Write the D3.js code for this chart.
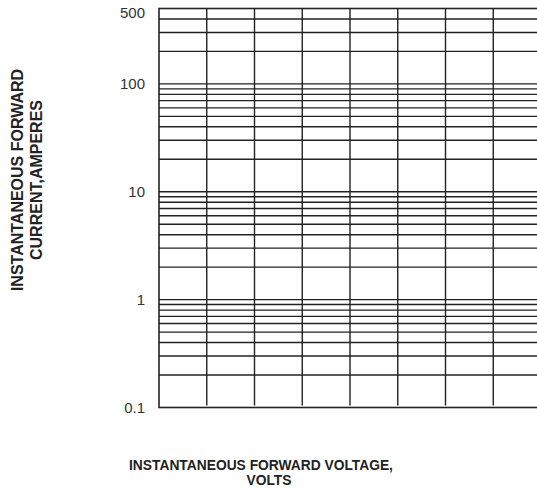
<!DOCTYPE html>
<html lang="en">
  <head>
    <meta charset="utf-8">
    <title>forward characteristics grid</title>
    <script src="https://cdn.jsdelivr.net/npm/d3@7"></script>
    <style>
      body { margin: 0; background: #fff; }
    </style>
  </head>
  <body>
    <div id='main'></div>
  </body>

  <script type='text/javascript'>

      // y axis (log) labels and grid values
      const yTickValues = [0.1, 1, 10, 100, 500];
      const yTickLabels = ['0.1', '1', '10', '100', '500'];
      const yGridValues = [0.2, 0.3, 0.4, 0.5, 0.6, 0.7, 0.8, 0.9,
                           1, 2, 3, 4, 5, 6, 7, 8, 9,
                           10, 20, 30, 40, 50, 60, 70, 80, 90,
                           100, 200, 300, 400];
      // x axis divisions (no labels on the reference)
      const xGridValues = [1, 2, 3, 4, 5, 6, 7];

      const yTitle = ['INSTANTANEOUS FORWARD', 'CURRENT,AMPERES'];
      const xTitle = ['INSTANTANEOUS FORWARD VOLTAGE,', 'VOLTS'];

      const W = 537, H = 502;
      const plotLeft = 159, plotTop = 8.5, plotBottom = 407.5, plotRight = 541;

      let svg = d3.select('#main').append('svg')
        .attr('width', W)
        .attr('height', H)
        .style('font-family', 'Liberation Sans, Arial, sans-serif');

      const y = d3.scaleLog().domain([0.1, 500]).range([plotBottom, plotTop]);
      const x = d3.scaleLinear().domain([0, 8]).range([plotLeft, plotRight]);

      const lineColor = '#222';

      // horizontal grid
      svg.append('g').selectAll('line')
        .data(yGridValues)
        .enter()
        .append('line')
        .attr('x1', plotLeft).attr('x2', plotRight)
        .attr('y1', d => y(d)).attr('y2', d => y(d))
        .attr('stroke', lineColor)
        .attr('stroke-width', 1.4);

      // vertical grid
      svg.append('g').selectAll('line')
        .data(xGridValues)
        .enter()
        .append('line')
        .attr('x1', d => x(d)).attr('x2', d => x(d))
        .attr('y1', plotTop).attr('y2', plotBottom - 2)
        .attr('stroke', lineColor)
        .attr('stroke-width', 1.4);

      // frame
      svg.append('rect')
        .attr('x', plotLeft).attr('y', plotTop)
        .attr('width', plotRight - plotLeft).attr('height', plotBottom - plotTop)
        .attr('fill', 'none')
        .attr('stroke', lineColor)
        .attr('stroke-width', 1.6);

      // y tick labels
      const yAxis = d3.axisLeft(y)
        .tickValues(yTickValues)
        .tickFormat((d, i) => yTickLabels[i])
        .tickSize(0)
        .tickPadding(14);

      const ya = svg.append('g')
        .attr('transform', 'translate(' + plotLeft + ',0)')
        .call(yAxis);
      ya.select('.domain').remove();
      ya.selectAll('text')
        .attr('font-size', '15px')
        .attr('font-family', 'Liberation Sans, Arial, sans-serif')
        .attr('fill', '#333');
      // the top label sits a little below the frame
      ya.selectAll('.tick').filter(d => d === 500).select('text').attr('dy', '0.6em');

      // y title
      const yt = svg.append('text')
        .attr('transform', 'translate(23,180) rotate(-90)')
        .attr('text-anchor', 'middle')
        .attr('font-size', '16px')
        .attr('font-weight', 'bold')
        .attr('fill', '#222');
      yTitle.forEach((t, i) => {
        yt.append('tspan').attr('x', 0).attr('dy', i === 0 ? 0 : 19).text(t);
      });

      // x title
      const xt = svg.append('text')
        .attr('transform', 'translate(261,470)')
        .attr('text-anchor', 'middle')
        .attr('font-size', '13.8px')
        .attr('font-weight', 'bold')
        .attr('fill', '#222');
      xTitle.forEach((t, i) => {
        xt.append('tspan').attr('x', i === 0 ? 0 : 8).attr('dy', i === 0 ? 0 : 15).text(t);
      });

  </script>
</html>
